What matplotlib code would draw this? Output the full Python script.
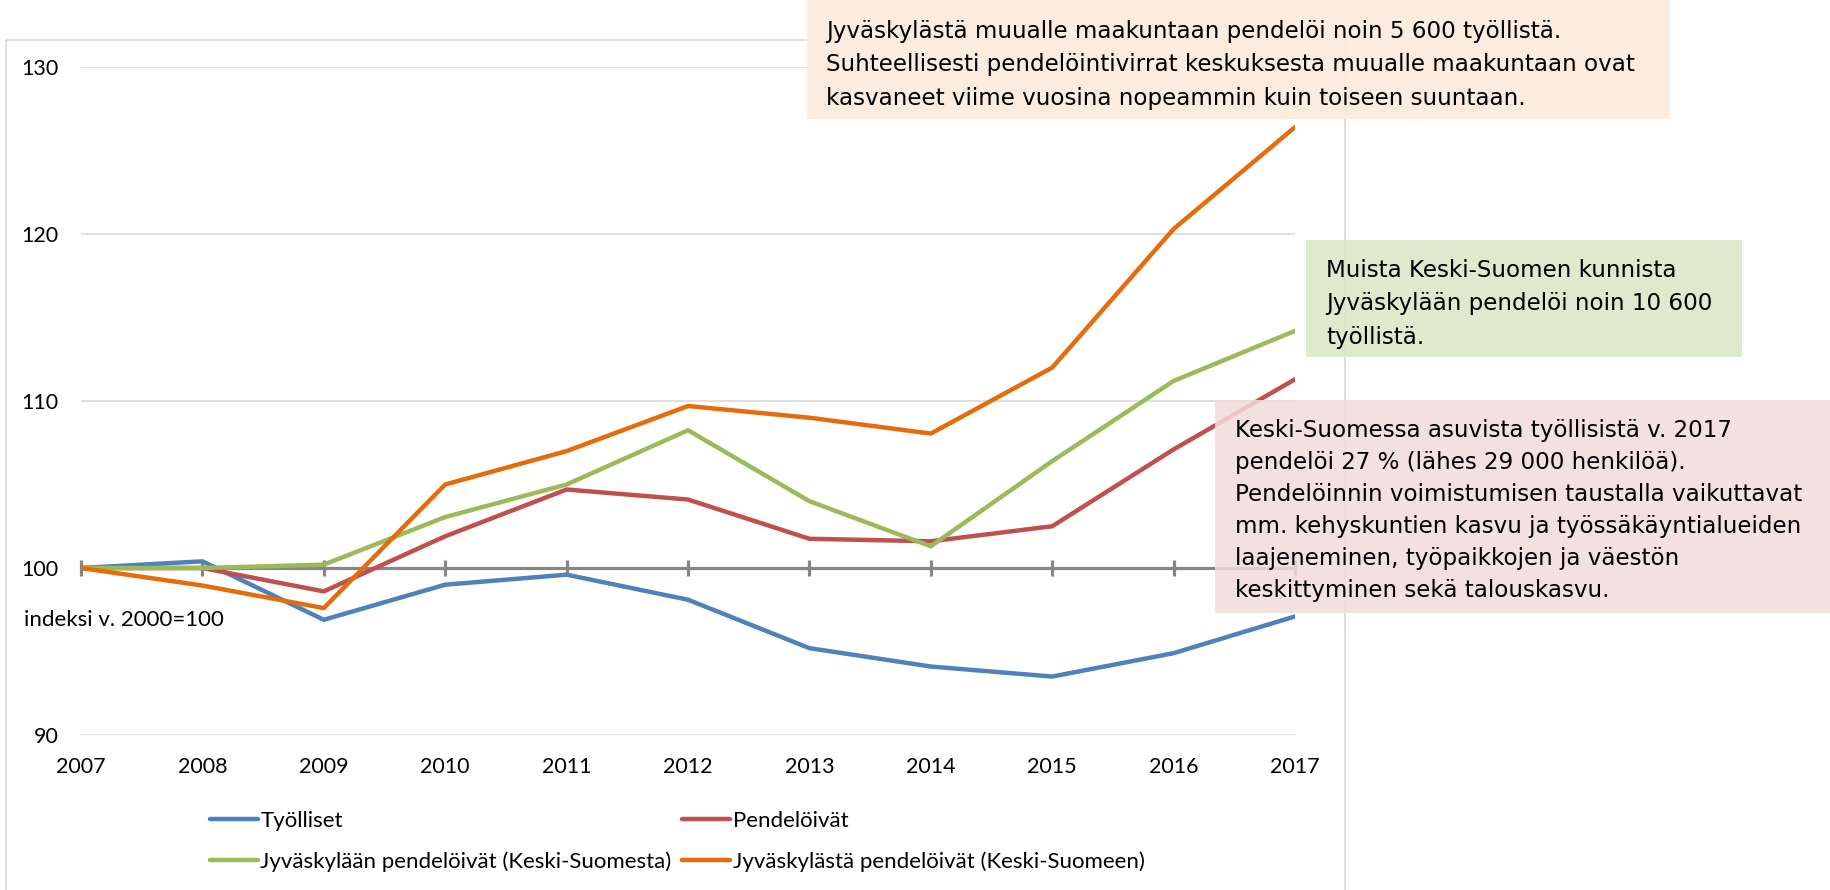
import matplotlib.pyplot as plt
from matplotlib.patches import Rectangle

years = [2007, 2008, 2009, 2010, 2011, 2012, 2013, 2014, 2015, 2016, 2017]

tyolliset = [100, 100.4, 96.9, 99.0, 99.6, 98.1, 95.2, 94.1, 93.5, 94.9, 97.1]
pendeloivat = [100, 100.0, 98.6, 101.9, 104.7, 104.1, 101.75, 101.6, 102.5, 107.1, 111.3]
jkl_kaan = [100, 100.0, 100.2, 103.05, 105.0, 108.25, 104.0, 101.3, 106.4, 111.2, 114.2]
jkl_sta = [100, 98.95, 97.6, 105.0, 107.0, 109.7, 109.0, 108.05, 112.0, 120.3, 126.4]

series_labels = ['Työlliset', 'Pendelöivät',
                 'Jyväskylään pendelöivät (Keski-Suomesta)',
                 'Jyväskylästä pendelöivät (Keski-Suomeen)']

y_ticks = [90, 100, 110, 120, 130]

box_orange = ("Jyväskylästä muualle maakuntaan pendelöi noin 5 600 työllistä.\n"
              "Suhteellisesti pendelöintivirrat keskuksesta muualle maakuntaan ovat\n"
              "kasvaneet viime vuosina nopeammin kuin toiseen suuntaan.")
box_green = ("Muista Keski-Suomen kunnista\n"
             "Jyväskylään pendelöi noin 10 600\n"
             "työllistä.")
box_pink = ("Keski-Suomessa asuvista työllisistä v. 2017\n"
            "pendelöi 27 % (lähes 29 000 henkilöä).\n"
            "Pendelöinnin voimistumisen taustalla vaikuttavat\n"
            "mm. kehyskuntien kasvu ja työssäkäyntialueiden\n"
            "laajeneminen, työpaikkojen ja väestön\n"
            "keskittyminen sekä talouskasvu.")

W, H = 1831, 890
fig = plt.figure(figsize=(W / 100, H / 100), dpi=100)

def fx(px):
    return px / W

def fy(py):
    return 1 - py / H

# chart area border
fig.add_artist(Rectangle((fx(6), fy(900)), fx(1345) - fx(6), fy(40) - fy(900),
                         transform=fig.transFigure, fill=False,
                         edgecolor='#D9D9D9', linewidth=1.2, zorder=0))

ax = fig.add_axes([fx(81), fy(735), fx(1295) - fx(81), fy(67) - fy(735)])
ax.set_xlim(2007, 2017)
ax.set_ylim(90, 130)
for s in ax.spines.values():
    s.set_visible(False)
ax.set_yticks(y_ticks)
ax.set_xticks(years)
ax.tick_params(length=0, labelsize=15.5, pad=16)
for lab in ax.get_xticklabels() + ax.get_yticklabels():
    lab.set_family('Lato')
ax.yaxis.grid(True, color='#D9D9D9', linewidth=1.2)
ax.set_axisbelow(True)

# category axis crossing at 100
ax.axhline(100, color='#868686', linewidth=2.3, zorder=2)
ax.plot(years, [100] * len(years), linestyle='none', marker='|',
        markersize=12, markeredgewidth=2.3, color='#868686', zorder=2,
        clip_on=False)

l1, = ax.plot(years, tyolliset, color='#4F81BD', lw=3.2, zorder=3, solid_capstyle='round')
l2, = ax.plot(years, pendeloivat, color='#C0504D', lw=3.2, zorder=3, solid_capstyle='round')
l3, = ax.plot(years, jkl_kaan, color='#9BBB59', lw=3.2, zorder=3, solid_capstyle='round')
l4, = ax.plot(years, jkl_sta, color='#E46C0A', lw=3.2, zorder=4, solid_capstyle='round')

fig.text(fx(24), fy(626), 'indeksi v. 2000=100', fontsize=16, family='Lato',
         va='baseline', ha='left')

fig.legend([l1, l3, l2, l4],
           [series_labels[0], series_labels[2], series_labels[1], series_labels[3]],
           ncol=2, loc='upper left', bbox_to_anchor=(fx(210), fy(811)),
           frameon=False, borderpad=0, borderaxespad=0, handlelength=2.15,
           handletextpad=0.12, columnspacing=0.47, labelspacing=0.92,
           prop={'family': 'Lato', 'size': 16})

# annotation boxes
note_font = dict(fontsize=16.6, family='DejaVu Sans', va='top', ha='left', zorder=11)

fig.add_artist(Rectangle((fx(807), fy(119)), fx(1670) - fx(807), fy(0) - fy(119),
                         transform=fig.transFigure, facecolor='#FCEBDD',
                         edgecolor='none', alpha=0.92, zorder=10))
fig.text(fx(826), fy(20), box_orange, linespacing=1.58, **note_font)

fig.add_artist(Rectangle((fx(1306), fy(357)), fx(1742) - fx(1306), fy(240) - fy(357),
                         transform=fig.transFigure, facecolor='#DCE7C8',
                         edgecolor='none', alpha=0.9, zorder=10))
fig.text(fx(1326), fy(259), box_green, linespacing=1.58, **note_font)

fig.add_artist(Rectangle((fx(1215), fy(613)), fx(1835) - fx(1215), fy(400) - fy(613),
                         transform=fig.transFigure, facecolor='#F2DCDB',
                         edgecolor='none', alpha=0.85, zorder=10))
fig.text(fx(1235), fy(419), box_pink, linespacing=1.5, **note_font)

fig.savefig('out.png', dpi=100)
